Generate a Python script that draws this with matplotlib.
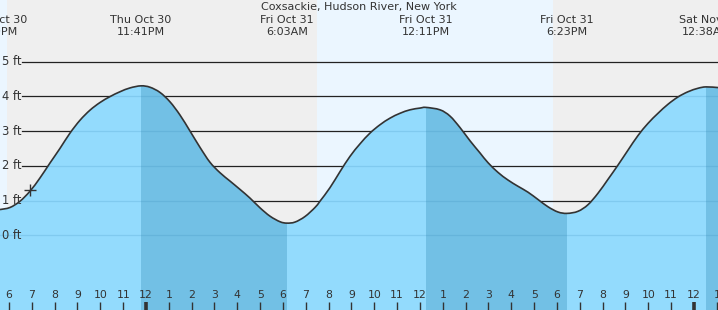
import numpy as np
import matplotlib
matplotlib.use("Agg")
import matplotlib.pyplot as plt
from matplotlib.path import Path
from matplotlib.patches import PathPatch
from matplotlib.transforms import blended_transform_factory

# hours relative to midnight Fri Oct 31
tide_hours = [-6.394, -5.956, -5.518, -5.080, -4.643, -4.205, -3.767, -3.329,
              -2.891, -2.453, -2.015, -1.577, -1.139, -0.701, -0.22, 0.175,
              0.613, 1.051, 1.489, 1.927, 2.365, 2.803, 3.241, 3.679, 4.117,
              4.555, 4.993, 5.431, 5.869, 6.17, 6.526, 6.964, 7.402, 7.620,
              8.058, 8.496, 8.934, 9.372, 9.810, 10.248, 10.686, 11.124,
              11.562, 12.000, 12.26, 12.876, 13.314, 13.752, 14.190, 14.628,
              14.978, 15.416, 15.854, 16.292, 16.730, 17.168, 17.606, 18.044,
              18.44, 18.920, 19.358, 19.796, 20.234, 20.672, 21.110, 21.548,
              21.986, 22.424, 22.862, 23.300, 23.738, 24.176, 24.53, 25.052]
tide_ft = [0.74, 0.80, 0.98, 1.27, 1.65, 2.08, 2.50, 2.94,
           3.31, 3.60, 3.82, 3.99, 4.13, 4.24, 4.30, 4.26,
           4.11, 3.84, 3.46, 3.00, 2.53, 2.10, 1.80, 1.56, 1.32,
           1.07, 0.79, 0.55, 0.39, 0.35, 0.38, 0.54, 0.80, 0.98,
           1.37, 1.83, 2.27, 2.63, 2.94, 3.18, 3.37, 3.51,
           3.61, 3.66, 3.68, 3.61, 3.43, 3.10, 2.72, 2.37,
           2.09, 1.81, 1.59, 1.41, 1.24, 1.03, 0.82, 0.67,
           0.63, 0.69, 0.88, 1.21, 1.61, 2.02, 2.45, 2.87,
           3.22, 3.51, 3.77, 3.98, 4.13, 4.23, 4.27, 4.25]

# high / low tide times shown along the top
extreme_hours = [-6.52, -0.22, 6.17, 12.26, 18.44, 24.53]
extreme_days = ["Thu Oct 30", "Thu Oct 30", "Fri Oct 31", "Fri Oct 31", "Fri Oct 31", "Sat Nov 1"]
extreme_times = ["5:29PM", "11:41PM", "6:03AM", "12:11PM", "6:23PM", "12:38AM"]
extreme_kind = ["low", "high", "low", "high", "low", "high"]

# sunrise / sunset
sunset_1 = -6.09
sunrise = 7.49
sunset_2 = 17.83

now_hour = -5.08
now_ft = 1.30

ft_levels = [0, 1, 2, 3, 4, 5]
hour_ticks = list(range(-6, 26))

night_color = "#efefef"
day_color = "#ebf6ff"
water_light = "#93dbfd"
water_dark = "#72c0e5"
text_color = "#333333"


def smooth_path_verts(xs, ys):
    """Bezier (Catmull-Rom) segments through the read points."""
    pts = np.column_stack([xs, ys])
    verts = [pts[0]]
    codes = [Path.MOVETO]
    n = len(pts)
    for i in range(n - 1):
        p0 = pts[max(i - 1, 0)]
        p1 = pts[i]
        p2 = pts[i + 1]
        p3 = pts[min(i + 2, n - 1)]
        c1 = p1 + (p2 - p0) / 6.0
        c2 = p2 - (p3 - p1) / 6.0
        verts += [c1, c2, p2]
        codes += [Path.CURVE4] * 3
    return verts, codes


fig = plt.figure(figsize=(7.18, 3.10), dpi=100)
ax = fig.add_axes([0, 0, 1, 1])
x0, x1 = -6.394, 25.052
ax.set_xlim(x0, x1)
ax.set_ylim(-2.15, 6.77)
ax.axis("off")

# day / night background
ax.axvspan(x0, sunset_1, color=day_color, lw=0, zorder=0)
ax.axvspan(sunset_1, sunrise, color=night_color, lw=0, zorder=0)
ax.axvspan(sunrise, sunset_2, color=day_color, lw=0, zorder=0)
ax.axvspan(sunset_2, x1, color=night_color, lw=0, zorder=0)

# grid lines (start after the labels)
trans = blended_transform_factory(ax.transAxes, ax.transData)
gx0 = 22 / 718
for lv in ft_levels:
    ax.plot([gx0, 1], [lv, lv], transform=trans, color="#222222", lw=0.9, zorder=1)
    ax.text(2 / 718, lv, f"{lv} ft", transform=trans, ha="left", va="center",
            fontsize=8.3, color=text_color, zorder=6)

verts, codes = smooth_path_verts(tide_hours, tide_ft)

# water body: curve closed down to the bottom
fill_verts = verts + [(tide_hours[-1], -3), (tide_hours[0], -3), verts[0]]
fill_codes = codes + [Path.LINETO, Path.LINETO, Path.CLOSEPOLY]
water = PathPatch(Path(fill_verts, fill_codes), facecolor=water_light, lw=0, zorder=2)
ax.add_patch(water)

# falling tide (high -> low) is darker
for i, k in enumerate(extreme_kind):
    if k == "high":
        end = extreme_hours[i + 1] if i + 1 < len(extreme_hours) else x1
        band = ax.axvspan(extreme_hours[i], end, color=water_dark, lw=0, zorder=2.5)
        band.set_clip_path(water)

# grid showing faintly through the water
for lv in ft_levels:
    gl = ax.axhline(lv, color="#2a7fb0", lw=0.9, alpha=0.18, zorder=3)
    gl.set_clip_path(water)

ax.add_patch(PathPatch(Path(verts, codes), facecolor="none", edgecolor="#333333",
                       lw=1.2, zorder=4))
ax.plot([now_hour], [now_ft], marker="+", ms=9, mew=1.0, color="#333333", zorder=5)

# title and extreme labels
fig.text(0.5, 1 - 7 / 310, "Coxsackie, Hudson River, New York", ha="center", va="center",
         fontsize=8, color=text_color)
ttop = blended_transform_factory(ax.transData, fig.transFigure)
for hr, d, tm in zip(extreme_hours, extreme_days, extreme_times):
    ax.text(hr, 1 - 20 / 310, d, transform=ttop, ha="center", va="center",
            fontsize=8, color=text_color, zorder=6)
    ax.text(hr, 1 - 32 / 310, tm, transform=ttop, ha="center", va="center",
            fontsize=8, color=text_color, zorder=6)

# hour ticks along the bottom
tbot = blended_transform_factory(ax.transData, ax.transAxes)
for hr in hour_ticks:
    lab = hr % 12
    if lab == 0:
        lab = 12
    midnight = hr % 24 == 0
    ax.plot([hr, hr], [0, 8 / 310], transform=tbot, color="#333333",
            lw=2.6 if midnight else 1.0, solid_capstyle="butt", zorder=6)
    ax.text(hr, 15 / 310, str(lab), transform=tbot, ha="center", va="center",
            fontsize=7.8, color=text_color, zorder=6)

fig.savefig("out.png", dpi=100)
